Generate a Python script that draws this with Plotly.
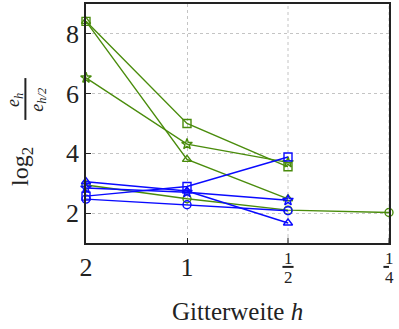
import plotly.graph_objects as go

x_pos = [0, 1, 2, 3]
x_tick_labels = ["2", "1", "1/2", "1/4"]
y_ticks = [2, 4, 6, 8]

green_square = [8.42, 5.0, 3.55]
green_triangle = [8.42, 3.8, 2.48]
green_star = [6.53, 4.31, 3.7]
green_circle = [2.94, 2.48, 2.1, 2.02]

blue_triangle = [3.05, 2.74, 1.67]
blue_square = [2.57, 2.89, 3.88]
blue_star = [2.84, 2.7, 2.43]
blue_circle = [2.47, 2.28, 2.08]

GREEN = "#4a8c0c"
BLUE = "#0a0aff"

series = [
    (green_star, GREEN, "star-open"),
    (green_square, GREEN, "square-open"),
    (green_triangle, GREEN, "triangle-up-open"),
    (green_circle, GREEN, "circle-open"),
    (blue_star, BLUE, "star-open"),
    (blue_circle, BLUE, "circle-open"),
    (blue_triangle, BLUE, "triangle-up-open"),
    (blue_square, BLUE, "square-open"),
]

fig = go.Figure()
for vals, col, sym in series:
    fig.add_trace(go.Scatter(
        x=x_pos[:len(vals)], y=vals, mode="lines+markers",
        line=dict(color=col, width=1.4),
        marker=dict(symbol=sym, size=8, color=col, line=dict(color=col, width=1.4)),
        showlegend=False, cliponaxis=False))

FONT = "Liberation Serif"
TXT = "#222"
GRID = "#c4c4c4"
fig.update_layout(
    width=399, height=329,
    margin=dict(l=86, r=10, t=4, b=86, autoexpand=False),
    plot_bgcolor="white", paper_bgcolor="white",
    font=dict(family=FONT, color=TXT),
)
fig.update_xaxes(
    range=[0, 3], tickvals=x_pos[:2], ticktext=x_tick_labels[:2],
    showgrid=True, gridcolor=GRID, griddash="dot", gridwidth=1,
    showline=True, linecolor=TXT, linewidth=1.5, mirror=True,
    ticks="inside", ticklen=5, tickcolor=TXT,
    tickfont=dict(size=26, family=FONT), zeroline=False,
)
fig.update_yaxes(
    range=[1, 9], tickvals=y_ticks,
    showgrid=True, gridcolor=GRID, griddash="dot", gridwidth=1,
    showline=True, linecolor=TXT, linewidth=1.5, mirror=True,
    ticks="inside", ticklen=5, tickcolor=TXT,
    tickfont=dict(size=26, family=FONT), zeroline=False,
)
for xv in x_pos[2:]:
    fig.add_shape(type="line", xref="x", yref="paper", x0=xv, x1=xv, y0=0, y1=1,
                  line=dict(color=GRID, width=1, dash="dot"), layer="below")
    fig.add_shape(type="line", xref="x", yref="paper", x0=xv, x1=xv, y0=0, y1=0.022,
                  line=dict(color=TXT, width=1))
# fraction tick labels
for xv, lab in zip(x_pos[2:], x_tick_labels[2:]):
    num, den = lab.split("/")
    fig.add_annotation(x=xv, y=-0.064, xref="x", yref="paper", text=num, showarrow=False,
                       font=dict(size=17, family=FONT, color=TXT), yanchor="middle")
    fig.add_annotation(x=xv, y=-0.146, xref="x", yref="paper", text=den, showarrow=False,
                       font=dict(size=17, family=FONT, color=TXT), yanchor="middle")
    fig.add_shape(type="line", xref="x", yref="paper", x0=xv - 0.055, x1=xv + 0.055,
                  y0=-0.1, y1=-0.1, line=dict(color=TXT, width=2))

# x title
fig.add_annotation(x=0.5, y=-0.285, xref="paper", yref="paper",
                   text="Gitterweite <i>h</i>", showarrow=False,
                   font=dict(size=25, family=FONT, color=TXT), yanchor="middle")
# y title: log2 (e_h / e_{h/2})
fig.add_annotation(x=-0.213, y=0.32, xref="paper", yref="paper", text="log<sub>2</sub>",
                   showarrow=False, textangle=-90, xanchor="center", yanchor="middle",
                   font=dict(size=24, family=FONT, color=TXT))
fig.add_annotation(x=-0.236, y=0.60, xref="paper", yref="paper", text="<i>e<sub>h</sub></i>",
                   showarrow=False, textangle=-90, xanchor="center", yanchor="middle",
                   font=dict(size=18, family=FONT, color=TXT))
fig.add_annotation(x=-0.158, y=0.60, xref="paper", yref="paper", text="<i>e<sub>h/2</sub></i>",
                   showarrow=False, textangle=-90, xanchor="center", yanchor="middle",
                   font=dict(size=18, family=FONT, color=TXT))
fig.add_shape(type="line", xref="paper", yref="paper", x0=-0.2, x1=-0.2,
              y0=0.515, y1=0.69, line=dict(color=TXT, width=2))
fig.write_html("out.html", config={"displayModeBar": False},
               post_script="document.body.style.margin='0';document.body.style.overflow='hidden';")
